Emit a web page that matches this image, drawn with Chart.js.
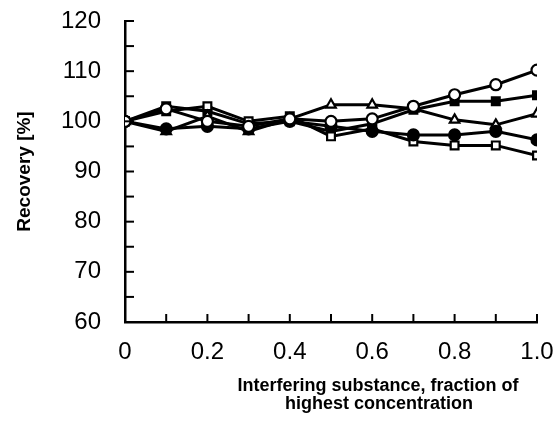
<!DOCTYPE html>
<html>
<head>
<meta charset="utf-8">
<script src="https://cdn.jsdelivr.net/npm/chart.js@4.4.1/dist/chart.umd.min.js"></script>
<style>
    html, body { margin: 0; padding: 0; background: #fff; }
    #wrap { width: 560px; height: 423px; }
</style>
</head>
<body>
<div id="wrap"><canvas id="recoveryChart"></canvas></div>
<script>
// Recovery vs. fraction of interfering substance

const fractions = [0, 0.1, 0.2, 0.3, 0.4, 0.5, 0.6, 0.7, 0.8, 0.9, 1.0];

const openCircle   = [100, 102.5, 100, 99, 100.5, 100, 100.5, 103, 105.3, 107.3, 110.2];
const filledCircle = [100, 98.5, 99, 98.5, 100, 99, 98, 97.3, 97.3, 98, 96.3];
const openTriangle = [100, 98, 101, 98, 100.5, 103.3, 103.3, 102.5, 100.3, 99.3, 101.5];
const openSquare   = [100, 102, 103, 100, 101, 97, 98.5, 96, 95.2, 95.2, 93.2];
const filledSquare = [100, 103, 102, 99.5, 100, 98, 99.5, 102.3, 104, 104, 105.2];

const yTicks = [60, 70, 80, 90, 100, 110, 120];
const xTicks = [0, 0.2, 0.4, 0.6, 0.8, 1.0];

document.addEventListener('DOMContentLoaded', function() {
    Chart.defaults.font.family = '"Liberation Sans", Arial, sans-serif';
    Chart.defaults.color = '#000';

    const ink = '#000';

    function series(values, style, fill) {
        return {
            data: values.map((v, i) => ({ x: fractions[i], y: v })),
            borderColor: ink,
            borderWidth: 3,
            pointStyle: style,
            pointRadius: 5.5,
            pointBorderWidth: 2.2,
            pointBorderColor: ink,
            pointBackgroundColor: fill ? ink : '#fff',
            tension: 0
        };
    }

    // keep the plot box where the original has it
    function noPad(s) {
        s.paddingTop = 0;
        s.paddingBottom = 0;
        s.paddingLeft = 0;
        s.paddingRight = 0;
    }

    // inward tick marks and the split x-axis title
    const axisDecor = {
        id: 'axisDecor',
        afterDraw(chart) {
            const ctx = chart.ctx;
            const x = chart.scales.x, y = chart.scales.y;
            const area = chart.chartArea;
            ctx.save();
            ctx.strokeStyle = ink;
            ctx.lineWidth = 2;
            for (let v = 0.1; v < 1.05; v += 0.1) {
                const px = x.getPixelForValue(v);
                ctx.beginPath();
                ctx.moveTo(px, area.bottom);
                ctx.lineTo(px, area.bottom - 8);
                ctx.stroke();
            }
            for (let v = 65; v <= 120; v += 5) {
                const py = y.getPixelForValue(v);
                ctx.beginPath();
                ctx.moveTo(area.left, py);
                ctx.lineTo(area.left + 9, py);
                ctx.stroke();
            }
            ctx.fillStyle = ink;
            ctx.font = 'bold 18px "Liberation Sans", Arial, sans-serif';
            ctx.textAlign = 'center';
            ctx.textBaseline = 'middle';
            ctx.fillText('Interfering substance, fraction of', 378, 386);
            ctx.fillText('highest concentration', 379, 404);
            ctx.restore();
        }
    };

    new Chart(document.getElementById('recoveryChart'), {
        type: 'line',
        data: {
            datasets: [
                series(openCircle, 'circle', false),
                series(filledCircle, 'circle', true),
                series(openTriangle, 'triangle', false),
                series(openSquare, 'rect', false),
                series(filledSquare, 'rect', true)
            ]
        },
        options: {
            responsive: true,
            maintainAspectRatio: false,
            animation: false,
            layout: { padding: { top: 21, right: 23, bottom: 0, left: 0 } },
            plugins: {
                legend: { display: false },
                tooltip: { enabled: false }
            },
            scales: {
                x: {
                    type: 'linear',
                    min: 0,
                    max: 1,
                    afterFit: s => { s.height = 101; noPad(s); },
                    afterBuildTicks: s => { s.ticks = xTicks.map(v => ({ value: v })); },
                    grid: { display: false, drawTicks: false },
                    border: { display: true, color: ink, width: 2.5 },
                    ticks: {
                        padding: 16,
                        maxRotation: 0,
                        font: { size: 24 },
                        callback: v => v === 0 ? '0' : v.toFixed(1)
                    }
                },
                y: {
                    min: 60,
                    max: 120,
                    afterFit: s => { s.width = 125; noPad(s); },
                    afterBuildTicks: s => { s.ticks = yTicks.map(v => ({ value: v })); },
                    grid: { display: false, drawTicks: false },
                    border: { display: true, color: ink, width: 2.5 },
                    ticks: {
                        padding: 24,
                        font: { size: 24 }
                    },
                    title: {
                        display: true,
                        text: 'Recovery [%]',
                        font: { size: 19, weight: 'bold' },
                        padding: { top: 13, bottom: 0 }
                    }
                }
            }
        },
        plugins: [axisDecor]
    });
});
</script>
</body>
</html>
